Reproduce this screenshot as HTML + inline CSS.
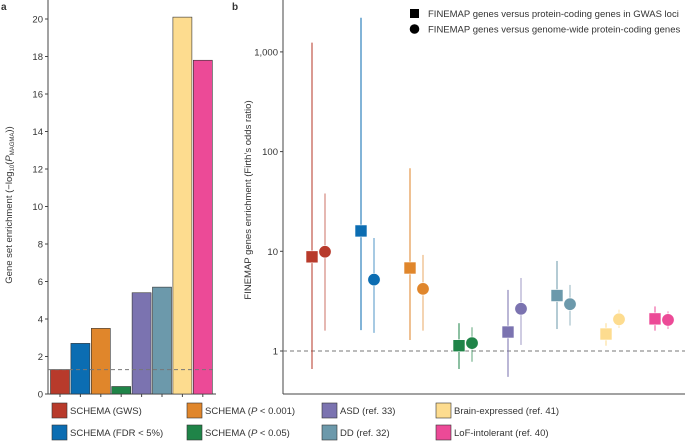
<!DOCTYPE html>
<html><head><meta charset="utf-8"><style>
body{margin:0;background:#fff;font-family:"Liberation Sans",sans-serif}
svg text{font-family:"Liberation Sans",sans-serif;fill:#333}
</style></head><body>
<svg id="s" width="685" height="441" viewBox="0 0 685 441" xmlns="http://www.w3.org/2000/svg">
<text x="1" y="10" font-size="10" font-weight="bold" fill="#000">a</text>
<text x="232" y="10" font-size="10" font-weight="bold" fill="#000">b</text>
<g id="ga"></g>
<g id="gb"></g>
<g id="lg"></g>
</svg>
<script>
const categories=["SCHEMA (GWS)","SCHEMA (FDR < 5%)","SCHEMA (P < 0.001)","SCHEMA (P < 0.05)","ASD (ref. 33)","DD (ref. 32)","Brain-expressed (ref. 41)","LoF-intolerant (ref. 40)"];
const colors=["#B83A2B","#0B6DB2","#E0862B","#1F8448","#7B73B0","#6C99AB","#FDDC8F","#EC4A97"];
const barValues=[1.3,2.7,3.5,0.4,5.4,5.7,20.1,17.8];
const barTicks=[0,2,4,6,8,10,12,14,16,18,20];
const sqVal=[8.8,16,6.8,1.13,1.55,3.6,1.48,2.1];
const sqLo=[0.66,1.62,1.29,0.66,0.55,1.66,1.13,1.6];
const sqHi=[1240,2200,68,1.9,4.1,8,1.9,2.8];
const ciVal=[9.9,5.2,4.2,1.2,2.65,2.95,2.08,2.05];
const ciLo=[1.6,1.52,1.6,0.78,1.15,1.8,1.7,1.66];
const ciHi=[38,13.6,9.2,1.73,5.4,4.6,2.6,2.5];
const logTicks=[1,10,100,1000];
const logTickLabels=["1","10","100","1,000"];
const NS="http://www.w3.org/2000/svg";
function mk(p,t,a,txt){const e=document.createElementNS(NS,t);for(const k in a)e.setAttribute(k,a[k]);if(txt!=null)e.textContent=txt;p.appendChild(e);return e;}
// panel a
const ga=document.getElementById('ga');
const ya=v=>394-v*18.75, xa=i=>60+i*20.4;
mk(ga,'line',{x1:48,y1:0,x2:48,y2:394,stroke:'#444','stroke-width':1});
mk(ga,'line',{x1:48,y1:394,x2:216,y2:394,stroke:'#444','stroke-width':1});
barTicks.forEach(t=>{
 const l=mk(ga,'line',{x1:45,y1:ya(t),x2:48,y2:ya(t),stroke:'#444'});
 
 const tx=mk(ga,'text',{x:43,y:ya(t)+3.5,'font-size':9.5,'text-anchor':'end'},t);
 
});
barValues.forEach((v,i)=>{
 const r=mk(ga,'rect',{x:xa(i)-9.5,y:ya(v),width:19,height:ya(0)-ya(v),fill:colors[i],stroke:'#333','stroke-width':0.6});
 
 mk(ga,'line',{x1:xa(i),y1:394,x2:xa(i),y2:397,stroke:'#444'});
});
const da=mk(ga,'line',{x1:48,y1:ya(1.3),x2:215,y2:ya(1.3),stroke:'#777','stroke-dasharray':'4,3','stroke-width':1});

const yta=mk(ga,'text',{transform:'translate(12,205) rotate(-90)','font-size':9.5,'text-anchor':'middle'});

yta.innerHTML='Gene set enrichment (−log<tspan font-size="6" dy="2">10</tspan><tspan dy="-2">(</tspan><tspan font-style="italic">P</tspan><tspan font-size="6" dy="2">MAGMA</tspan><tspan dy="-2">))</tspan>';
// panel b
const gb=document.getElementById('gb');
const yb=v=>351-Math.log10(v)*99.7, xb=i=>318.5+i*49;
mk(gb,'line',{x1:283,y1:0,x2:283,y2:394,stroke:'#444'});
mk(gb,'line',{x1:283,y1:394,x2:685,y2:394,stroke:'#444'});
logTicks.forEach((t,k)=>{
 mk(gb,'line',{x1:280,y1:yb(t),x2:283,y2:yb(t),stroke:'#444'});
 const tx=mk(gb,'text',{x:278,y:yb(t)+3.5,'font-size':9.5,'text-anchor':'end'},logTickLabels[k]);
 
});
const db=mk(gb,'line',{x1:283,y1:yb(1),x2:685,y2:yb(1),stroke:'#777','stroke-dasharray':'4,3'});

categories.forEach((c,i)=>{
 const xs=xb(i)-6.5,xc=xb(i)+6.5;
 mk(gb,'line',{x1:xs,y1:yb(sqLo[i]),x2:xs,y2:yb(sqHi[i]),stroke:colors[i],'stroke-width':1.2,opacity:0.85});
 mk(gb,'line',{x1:xc,y1:yb(ciLo[i]),x2:xc,y2:yb(ciHi[i]),stroke:colors[i],'stroke-width':1.2,opacity:0.6});
 const s=mk(gb,'rect',{x:xs-6,y:yb(sqVal[i])-6,width:12,height:12,fill:colors[i],stroke:'#fff','stroke-width':0.6});
 
 const cc=mk(gb,'circle',{cx:xc,cy:yb(ciVal[i]),r:6.2,fill:colors[i],stroke:'#fff','stroke-width':0.6});
 
});
const ytb=mk(gb,'text',{transform:'translate(251,200) rotate(-90)','font-size':9.5,'text-anchor':'middle'},"FINEMAP genes enrichment (Firth’s odds ratio)");

const l1=mk(gb,'rect',{x:410,y:9,width:9,height:9,fill:'#000'});

const l1t=mk(gb,'text',{x:428,y:17,'font-size':9.5},'FINEMAP genes versus protein-coding genes in GWAS loci');

const l2=mk(gb,'circle',{cx:414.5,cy:29,r:4.8,fill:'#000'});

const l2t=mk(gb,'text',{x:428,y:32.5,'font-size':9.5},'FINEMAP genes versus genome-wide protein-coding genes');

// bottom legend
const lg=document.getElementById('lg');
const lx=[52,187,322,436], ly=[403,425];
const labelsHTML=["SCHEMA (GWS)","SCHEMA (FDR &lt; 5%)","SCHEMA (<tspan font-style='italic'>P</tspan> &lt; 0.001)","SCHEMA (<tspan font-style='italic'>P</tspan> &lt; 0.05)","ASD (ref. 33)","DD (ref. 32)","Brain-expressed (ref. 41)","LoF-intolerant (ref. 40)"];
categories.forEach((c,i)=>{
 const col=Math.floor(i/2),row=i%2;
 const g=mk(lg,'g',{});
 
 
 mk(g,'rect',{x:lx[col],y:ly[row],width:15,height:15,fill:colors[i],stroke:'#333','stroke-width':0.6});
 const t=mk(g,'text',{x:lx[col]+18,y:ly[row]+11,'font-size':9.5});
 t.innerHTML=labelsHTML[i];
});
</script>
</body></html>
